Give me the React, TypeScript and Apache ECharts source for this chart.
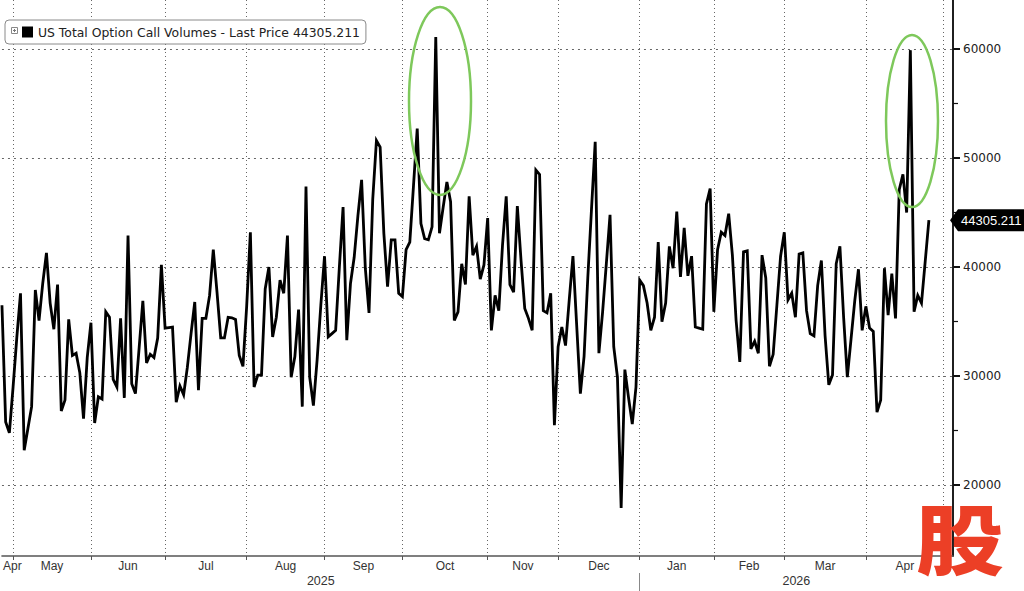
import React, { useEffect, useRef } from "react";
import * as echarts from "echarts";

// ---- data -------------------------------------------------------------
const seriesName = "US Total Option Call Volumes";
const lastPrice = 44305.211;

// daily values, trading-day index 0 = 28 Apr 2025
const callVolumes = [
  36500, 25800, 24800, 29000, 33500, 37600, 23200, 25200, 27200, 37900,
  35100, 38500, 41300, 36700, 34300, 38400, 26800, 27800, 35200, 31900,
  32100, 30300, 26100, 31700, 34900, 25700, 28100, 27900, 35900, 35400,
  29700, 29000, 35300, 28000, 42900, 29300, 28400, 32600, 36900, 31200,
  32000, 31700, 33500, 40200, 34400, 34450, 34500, 27600, 29100, 28300,
  30800, 33900, 36800, 28700, 35300, 35300, 37400, 41600, 37700, 33500,
  33500, 35400, 35350, 35200, 31900, 30900, 36400, 43200, 29000, 30100,
  30100, 38000, 40000, 33600, 35400, 38800, 37600, 42900, 29900, 31800,
  36100, 27200, 47400, 29900, 27300, 31500, 36500, 41000, 33600, 33900,
  34200, 40000, 45500, 33300, 38500, 40900, 44700, 48000, 39900, 35800,
  46200, 51600, 51000, 43100, 38200, 42500, 42500, 37600, 37300, 41600,
  42300, 47500, 52700, 44000, 42600, 42500, 43700, 61100, 43100, 45500,
  47800, 46000, 35100, 35900, 40300, 38400, 46500, 41100, 41900, 38900,
  40200, 44500, 34200, 37400, 36000, 42000, 46500, 38400, 37700, 45600,
  40600, 36200, 35300, 34200, 48900, 48500, 36000, 35800, 37600, 25500,
  32700, 34500, 32800, 37000, 41000, 34700, 28400, 31800, 39000, 45300,
  51500, 32100, 35900, 40300, 44800, 32700, 29900, 17900, 30600, 28000,
  25600, 29000, 38800, 38300, 36700, 34200, 35400, 42300, 35000, 36700,
  41900, 39900, 45100, 39100, 43600, 39200, 41000, 34500, 34400, 34300,
  45800, 47200, 35900, 41600, 43200, 42900, 44900, 41100, 35100, 31300,
  41400, 41500, 32500, 33200, 32100, 41100, 39000, 30900, 32000, 36500,
  41000, 43200, 37000, 37600, 35400, 41200, 41300, 36000, 33900, 33700,
  38300, 40600, 33700, 29200, 30100, 40300, 41900, 35400, 29900, 33400,
  36900, 39800, 34200, 36400, 34400, 34100, 26700, 27800, 39900, 35600,
  39400, 35300, 47100, 48500, 45000, 59900, 35900, 37400, 36700, 40500,
  44305.211,
];

// first trading day of each month (index in callVolumes): May 2025 ... May 2026
const monthStarts = [3, 24, 44, 66, 87, 108, 131, 150, 172, 192, 211, 233, 254];
const monthNames = ["Apr", "May", "Jun", "Jul", "Aug", "Sep", "Oct", "Nov", "Dec", "Jan", "Feb", "Mar", "Apr"];
const yearNames = ["2025", "2026"];
const yearStart = 172; // first session of 2026

const yMajor = [20000, 30000, 40000, 50000, 60000];
const yMinor = [15000, 25000, 35000, 45000, 55000];

const X_MIN = 0;
const X_MAX = 256.5;
const Y_MIN = 13500;
const Y_MAX = 64500;

const FONT = "'Liberation Sans', Arial, sans-serif";
const FONT_BB = "'DejaVu Sans', Verdana, sans-serif";

export default function App() {
  const ref = useRef<HTMLDivElement | null>(null);

  useEffect(() => {
    document.body.style.margin = "0";
    if (!ref.current) return;
    const chart = echarts.init(ref.current, undefined, { renderer: "svg" });

    // month label positions: middle of each month span (first partial month kept inside)
    const labelPos: number[] = [monthStarts[0] - 0.2];
    for (let i = 0; i < monthStarts.length - 1; i++) {
      labelPos.push((monthStarts[i] + monthStarts[i + 1]) / 2);
    }
    const labelMap = new Map<number, string>();
    labelPos.forEach((p, i) => labelMap.set(p, monthNames[i]));

    const yearPos = [(X_MIN + yearStart) / 2, (yearStart + X_MAX) / 2];
    const yearMap = new Map<number, string>();
    yearPos.forEach((p, i) => yearMap.set(p, yearNames[i]));

    const gridRect = { left: 1.6, right: 71, top: 0, bottom: 35 };

    const option: any = {
      animation: false,
      backgroundColor: "#ffffff",
      textStyle: { fontFamily: FONT },
      grid: [{ ...gridRect }, { ...gridRect }],
      legend: {
        left: 5,
        top: 20,
        padding: [6, 6, 6, 17],
        backgroundColor: "#ffffff",
        borderColor: "#8a8a8a",
        borderWidth: 1,
        borderRadius: 4,
        itemWidth: 11,
        itemHeight: 11,
        icon: "rect",
        data: [{ name: seriesName, itemStyle: { color: "#000" } }],
        formatter: () => `${seriesName} - Last Price ${lastPrice}`,
        textStyle: { fontSize: 12.4, color: "#222", fontFamily: FONT_BB },
      },
      xAxis: [
        {
          type: "value",
          gridIndex: 0,
          min: X_MIN,
          max: X_MAX,
          position: "bottom",
          axisLine: { show: true, onZero: false, lineStyle: { color: "#555", width: 1.5 } },
          axisTick: {
            show: true,
            customValues: monthStarts,
            length: 4,
            lineStyle: { color: "#555" },
          },
          axisLabel: {
            customValues: labelPos,
            formatter: (v: number) => labelMap.get(v) ?? "",
            color: "#333",
            fontSize: 12,
            margin: 4,
            fontFamily: FONT,
          },
          splitLine: { show: true, lineStyle: { type: [1, 3], color: "#666", width: 1 } },
        },
        {
          type: "value",
          gridIndex: 0,
          min: X_MIN,
          max: X_MAX,
          position: "bottom",
          offset: 17,
          axisLine: { show: false, onZero: false },
          axisTick: {
            show: true,
            customValues: [yearStart],
            length: 20,
            lineStyle: { color: "#888" },
          },
          axisLabel: {
            customValues: yearPos,
            formatter: (v: number) => yearMap.get(v) ?? "",
            color: "#333",
            fontSize: 12.5,
            margin: 1,
            fontFamily: FONT,
          },
          splitLine: { show: false },
        },
        {
          type: "value",
          gridIndex: 1,
          min: X_MIN,
          max: X_MAX,
          position: "bottom",
          axisLine: { show: false, onZero: false },
          axisTick: { show: false },
          axisLabel: { show: false },
          splitLine: { show: false },
        },
      ],
      yAxis: [
        {
          type: "value",
          gridIndex: 0,
          position: "right",
          min: Y_MIN,
          max: Y_MAX,
          axisLine: { show: true, onZero: false, lineStyle: { color: "#111", width: 1.5 } },
          axisTick: {
            show: true,
            customValues: yMajor,
            length: 7,
            lineStyle: { color: "#111", width: 2 },
          },
          axisLabel: {
            customValues: yMajor,
            formatter: (v: number) => String(v),
            color: "#222",
            fontSize: 12,
            margin: 10,
            fontFamily: FONT_BB,
          },
          splitLine: { show: true, lineStyle: { type: [2, 4], color: "#666", width: 1 } },
        },
        {
          type: "value",
          gridIndex: 1,
          position: "right",
          min: Y_MIN,
          max: Y_MAX,
          axisLine: { show: true, onZero: false, lineStyle: { color: "#111", width: 1.5 } },
          axisTick: {
            show: true,
            customValues: yMinor,
            length: 5,
            lineStyle: { color: "#111", width: 1.2 },
          },
          axisLabel: { show: false },
          splitLine: { show: false },
        },
      ],
      series: [
        {
          type: "line",
          name: seriesName,
          xAxisIndex: 0,
          yAxisIndex: 0,
          data: callVolumes.map((v, i) => [i, v]),
          symbol: "none",
          showSymbol: false,
          clip: true,
          lineStyle: { color: "#000", width: 2.8, join: "miter" },
          itemStyle: { color: "#000" },
          z: 5,
        },
      ],
    };

    chart.setOption(option);

    const py = chart.convertToPixel({ yAxisIndex: 0 }, lastPrice) as number;
    const axisX = 1024 - 71;

    chart.setOption({
      graphic: [
        // expand icon in legend
        {
          type: "rect",
          z: 100,
          shape: { x: 11.5, y: 27.5, width: 6, height: 6 },
          style: { fill: "#fff", stroke: "#888", lineWidth: 1 },
        },
        {
          type: "line",
          z: 101,
          shape: { x1: 13, y1: 30.5, x2: 16, y2: 30.5 },
          style: { stroke: "#777", lineWidth: 1 },
        },
        {
          type: "line",
          z: 101,
          shape: { x1: 14.5, y1: 29, x2: 14.5, y2: 32 },
          style: { stroke: "#777", lineWidth: 1 },
        },
        // highlight ellipses
        {
          type: "ellipse",
          z: 100,
          shape: { cx: 440, cy: 101, rx: 31, ry: 94 },
          style: { fill: "none", stroke: "#7ec85b", lineWidth: 2.5 },
        },
        {
          type: "ellipse",
          z: 100,
          shape: { cx: 912, cy: 121, rx: 26, ry: 86 },
          style: { fill: "none", stroke: "#7ec85b", lineWidth: 2.5 },
        },
        // last price tag
        {
          type: "polygon",
          z: 100,
          shape: {
            points: [
              [axisX - 3, py],
              [axisX + 5, py - 11],
              [1024, py - 11],
              [1024, py + 11],
              [axisX + 5, py + 11],
            ],
          },
          style: { fill: "#000" },
        },
        {
          type: "text",
          z: 101,
          x: axisX + 8,
          y: py,
          style: {
            text: String(lastPrice),
            fill: "#fff",
            fontSize: 13,
            fontFamily: FONT,
            verticalAlign: "middle",
            align: "left",
          },
        },
        // watermark logo
        {
          type: "text",
          z: 110,
          x: 960,
          y: 536,
          scaleY: 0.86,
          style: {
            text: "股",
            fill: "#ec3f26",
            fontSize: 88,
            fontWeight: 900,
            fontFamily: "'Noto Sans CJK SC', sans-serif",
            align: "center",
            verticalAlign: "middle",
          },
        },
      ],
    });

    return () => {
      chart.dispose();
    };
  }, []);

  return (
    <div
      ref={ref}
      style={{ position: "absolute", left: 0, top: 0, width: 1024, height: 591, background: "#fff" }}
    />
  );
}
